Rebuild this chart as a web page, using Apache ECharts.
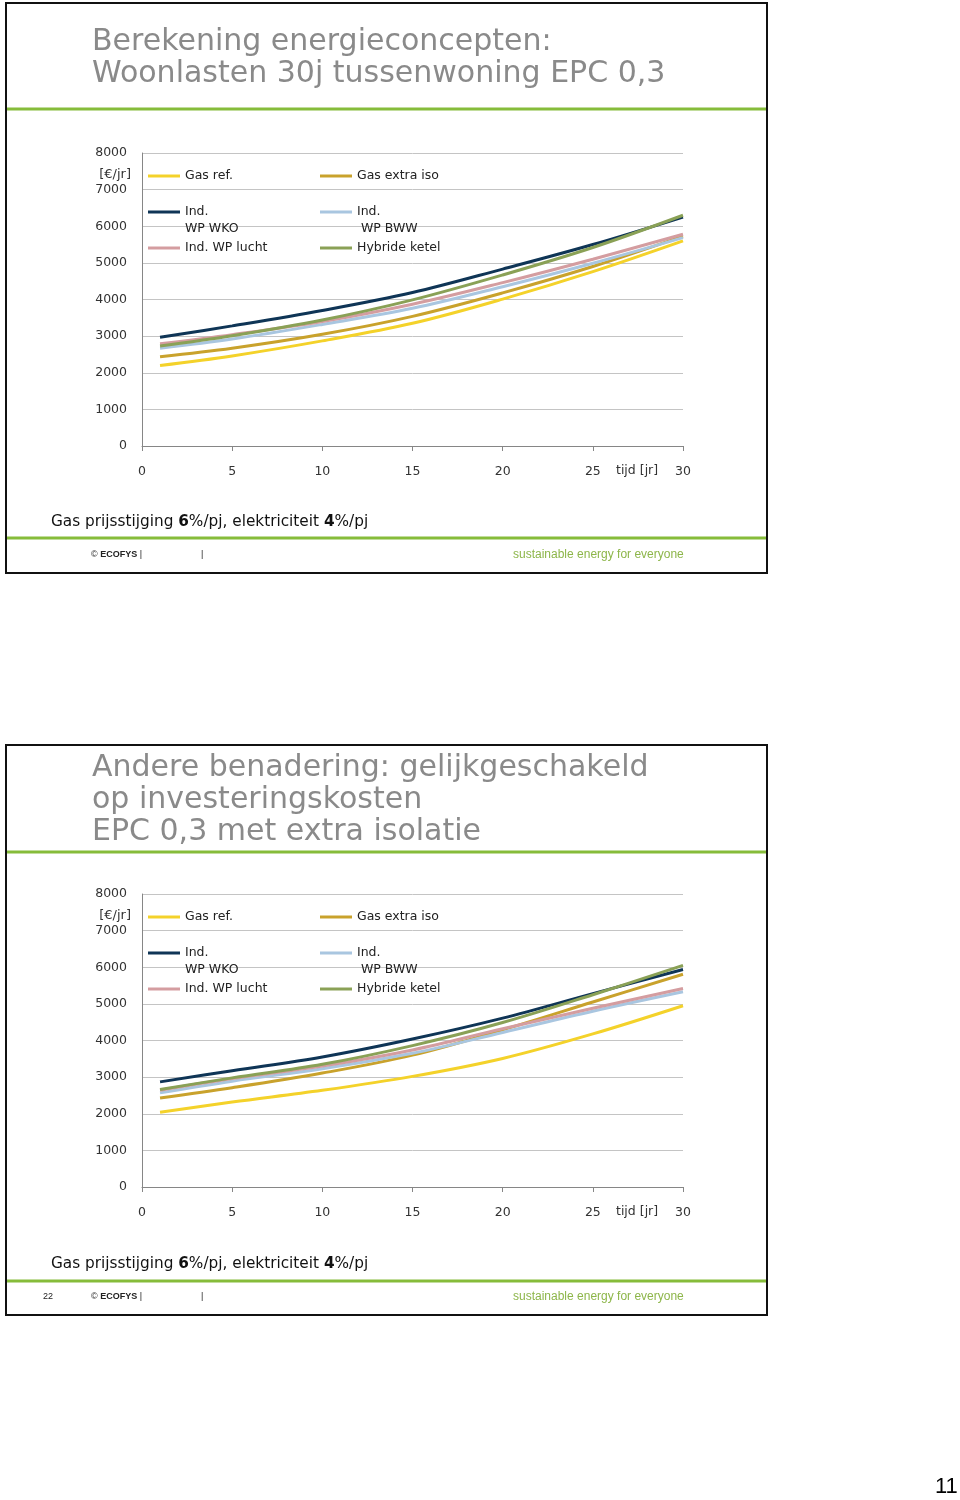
<!DOCTYPE html>
<html>
<head>
<meta charset="utf-8">
<script src="https://cdn.jsdelivr.net/npm/echarts@6/dist/echarts.min.js"></script>
<style>
html,body{margin:0;padding:0;background:#fff;}
#c{width:960px;height:1500px;}
</style>
</head>
<body>
<div id="c"></div>
<script>
// ---- data (years and yearly costs in EUR/yr) ----
const years = [1, 5, 10, 15, 20, 25, 30];
const xTicks = [0, 5, 10, 15, 20, 25, 30];
const yTicks = [0, 1000, 2000, 3000, 4000, 5000, 6000, 7000, 8000];
const seriesNames = ['Gas ref.', 'Gas extra iso', 'Ind. WP WKO', 'Ind. WP BWW', 'Ind. WP lucht', 'Hybride ketel'];

// chart 1: Woonlasten 30j tussenwoning EPC 0,3
const gasRef1 = [2200, 2460, 2870, 3350, 4010, 4760, 5600];
const gasIso1 = [2440, 2670, 3050, 3540, 4180, 4900, 5730];
const wko1    = [2970, 3280, 3700, 4190, 4830, 5500, 6250];
const bww1    = [2670, 2920, 3320, 3760, 4350, 4990, 5690];
const lucht1  = [2790, 3040, 3400, 3870, 4460, 5100, 5780];
const hyb1    = [2730, 3010, 3440, 3990, 4670, 5420, 6300];

// chart 2: gelijkgeschakeld op investeringskosten, EPC 0,3 met extra isolatie
const gasRef2 = [2040, 2320, 2640, 3020, 3510, 4180, 4950];
const gasIso2 = [2430, 2710, 3110, 3600, 4290, 5050, 5810];
const wko2    = [2870, 3175, 3550, 4040, 4610, 5280, 5940];
const bww2    = [2570, 2890, 3230, 3650, 4220, 4800, 5330];
const lucht2  = [2640, 2960, 3300, 3740, 4320, 4880, 5420];
const hyb2    = [2660, 2980, 3350, 3860, 4490, 5250, 6050];

const colors = ['#F4D22A', '#C9A22C', '#0F3556', '#A9C6E0', '#D49DA0', '#8AA156'];
const legendLabels = ['Gas ref.', 'Gas extra iso', 'Ind.\nWP WKO', 'Ind.\n WP BWW', 'Ind. WP lucht', 'Hybride ketel'];

const FONT = 'DejaVu Sans';
const GREEN = '#86bc3a';
const chart = echarts.init(document.getElementById('c'));

const sets = [[gasRef1, gasIso1, wko1, bww1, lucht1, hyb1], [gasRef2, gasIso2, wko2, bww2, lucht2, hyb2]];
const slideDy = [0, 741];

const grids = [], xAxes = [], yAxes = [], series = [], legends = [];
sets.forEach((set, g) => {
  const dy = slideDy[g];
  grids.push({left: 142, top: 153 + dy, width: 541, height: 293, containLabel: false});
  xAxes.push({
    type: 'value', gridIndex: g, min: 0, max: 30, interval: 5,
    axisLine: {show: true, lineStyle: {color: '#868686', width: 1}},
    axisTick: {show: true, length: 5, lineStyle: {color: '#868686'}},
    splitLine: {show: false},
    axisLabel: {fontFamily: FONT, fontSize: 12.5, color: '#333', margin: 19}
  });
  yAxes.push({
    type: 'value', gridIndex: g, min: 0, max: 8000, interval: 1000,
    axisLine: {show: true, lineStyle: {color: '#868686', width: 1}},
    axisTick: {show: false},
    splitLine: {show: true, lineStyle: {color: '#c4c4c4', width: 1}},
    axisLabel: {fontFamily: FONT, fontSize: 12.5, color: '#333', margin: 15, formatter: v => String(v)}
  });
  set.forEach((arr, i) => {
    series.push({
      name: seriesNames[i], type: 'line', xAxisIndex: g, yAxisIndex: g,
      smooth: 0.35, showSymbol: false, symbol: 'none',
      lineStyle: {color: colors[i], width: 3}, itemStyle: {color: colors[i]},
      data: years.map((x, k) => [x, arr[k]]),
      z: 2 + i
    });
  });
  const pos = [[148, 176], [320, 176], [148, 212], [320, 212], [148, 248], [320, 248]];
  seriesNames.forEach((nm, i) => {
    const two = legendLabels[i].indexOf('\n') >= 0;
    legends.push(two ? {
      data: [nm], left: pos[i][0], top: pos[i][1] + dy - 8.5,
      padding: 0, icon: 'path://M0,0H32V3H0Z M0,19.99H0.01V20H0Z', itemWidth: 32, itemHeight: 20, selectedMode: false,
      formatter: () => legendLabels[i],
      textStyle: {fontFamily: FONT, fontSize: 12.5, color: '#222', lineHeight: 17}
    } : {
      data: [nm], left: pos[i][0], top: pos[i][1] + dy - 7.5,
      padding: 0, icon: 'rect', itemWidth: 32, itemHeight: 3, selectedMode: false,
      formatter: () => legendLabels[i],
      textStyle: {fontFamily: FONT, fontSize: 12.5, color: '#222', lineHeight: 15}
    });
  });
});

const titles = [
  {text: 'Berekening energieconcepten:\nWoonlasten 30j tussenwoning EPC 0,3', left: 92, top: 26,
   textStyle: {fontFamily: FONT, fontSize: 30, fontWeight: 'normal', color: '#8a8a8a', lineHeight: 32}},
  {text: 'Andere benadering: gelijkgeschakeld\nop investeringskosten\nEPC 0,3 met extra isolatie', left: 92, top: 752,
   textStyle: {fontFamily: FONT, fontSize: 30, fontWeight: 'normal', color: '#8a8a8a', lineHeight: 32}}
];
[0, 742].forEach(dy => {
  titles.push({
    text: '{n|Gas prijsstijging }{b|6}{n|%/pj, elektriciteit }{b|4}{n|%/pj}', left: 51, top: 515 + dy,
    textStyle: {fontWeight: 'normal', rich: {n: {fontFamily: FONT, fontSize: 15.3, fontWeight: 'normal', color: '#111'}, b: {fontFamily: FONT, fontSize: 15.3, fontWeight: 'bold', color: '#111'}}}
  });
  titles.push({
    text: '{n|© }{b|ECOFYS}{n| |}', left: 91, top: 550 + dy,
    textStyle: {fontWeight: 'normal', rich: {n: {fontFamily: 'Liberation Sans', fontSize: 9, fontWeight: 'normal', color: '#222'}, b: {fontFamily: 'Liberation Sans', fontSize: 9, fontWeight: 'bold', color: '#222'}}}
  });
  titles.push({text: '|', left: 201, top: 550 + dy, textStyle: {fontFamily: 'Liberation Sans', fontSize: 9, fontWeight: 'normal', color: '#222'}});
  titles.push({text: 'sustainable energy for everyone', left: 513, top: 549 + dy,
    textStyle: {fontFamily: 'Liberation Sans', fontSize: 12, fontWeight: 'normal', color: '#8db64a'}});
});
titles.push({text: '22', left: 43, top: 1292, textStyle: {fontFamily: 'Liberation Sans', fontSize: 9, fontWeight: 'normal', color: '#222'}});
titles.push({text: '11', left: 935, top: 1476, textStyle: {fontFamily: 'Liberation Sans', fontSize: 22, fontWeight: 'normal', color: '#000'}});
titles.forEach(t => { t.padding = 0; });

const graphics = [];
slideDy.forEach((dy, g) => {
  const top = g === 0 ? 3 : 745;
  graphics.push({type: 'rect', shape: {x: 6, y: top, width: 761, height: 570}, style: {fill: 'none', stroke: '#111', lineWidth: 2}, silent: true});
  const gl1 = g === 0 ? 109 : 852;
  const gl2 = g === 0 ? 538 : 1281;
  graphics.push({type: 'line', shape: {x1: 7, y1: gl1, x2: 766, y2: gl1}, style: {stroke: GREEN, lineWidth: 3}, silent: true});
  graphics.push({type: 'line', shape: {x1: 7, y1: gl2, x2: 766, y2: gl2}, style: {stroke: GREEN, lineWidth: 3}, silent: true});
  graphics.push({type: 'text', x: 131, y: 175 + dy, style: {text: '[€/jr]', font: '13px "DejaVu Sans"', fill: '#333', textAlign: 'right', textVerticalAlign: 'middle'}, silent: true});
  graphics.push({type: 'text', x: 616, y: 471 + dy, style: {text: 'tijd [jr]', font: '12.5px "DejaVu Sans"', fill: '#333', textAlign: 'left', textVerticalAlign: 'middle'}, silent: true});
});

chart.setOption({
  animation: false,
  backgroundColor: '#fff',
  title: titles,
  legend: legends,
  grid: grids,
  xAxis: xAxes,
  yAxis: yAxes,
  series: series,
  graphic: graphics
});
</script>
</body>
</html>
